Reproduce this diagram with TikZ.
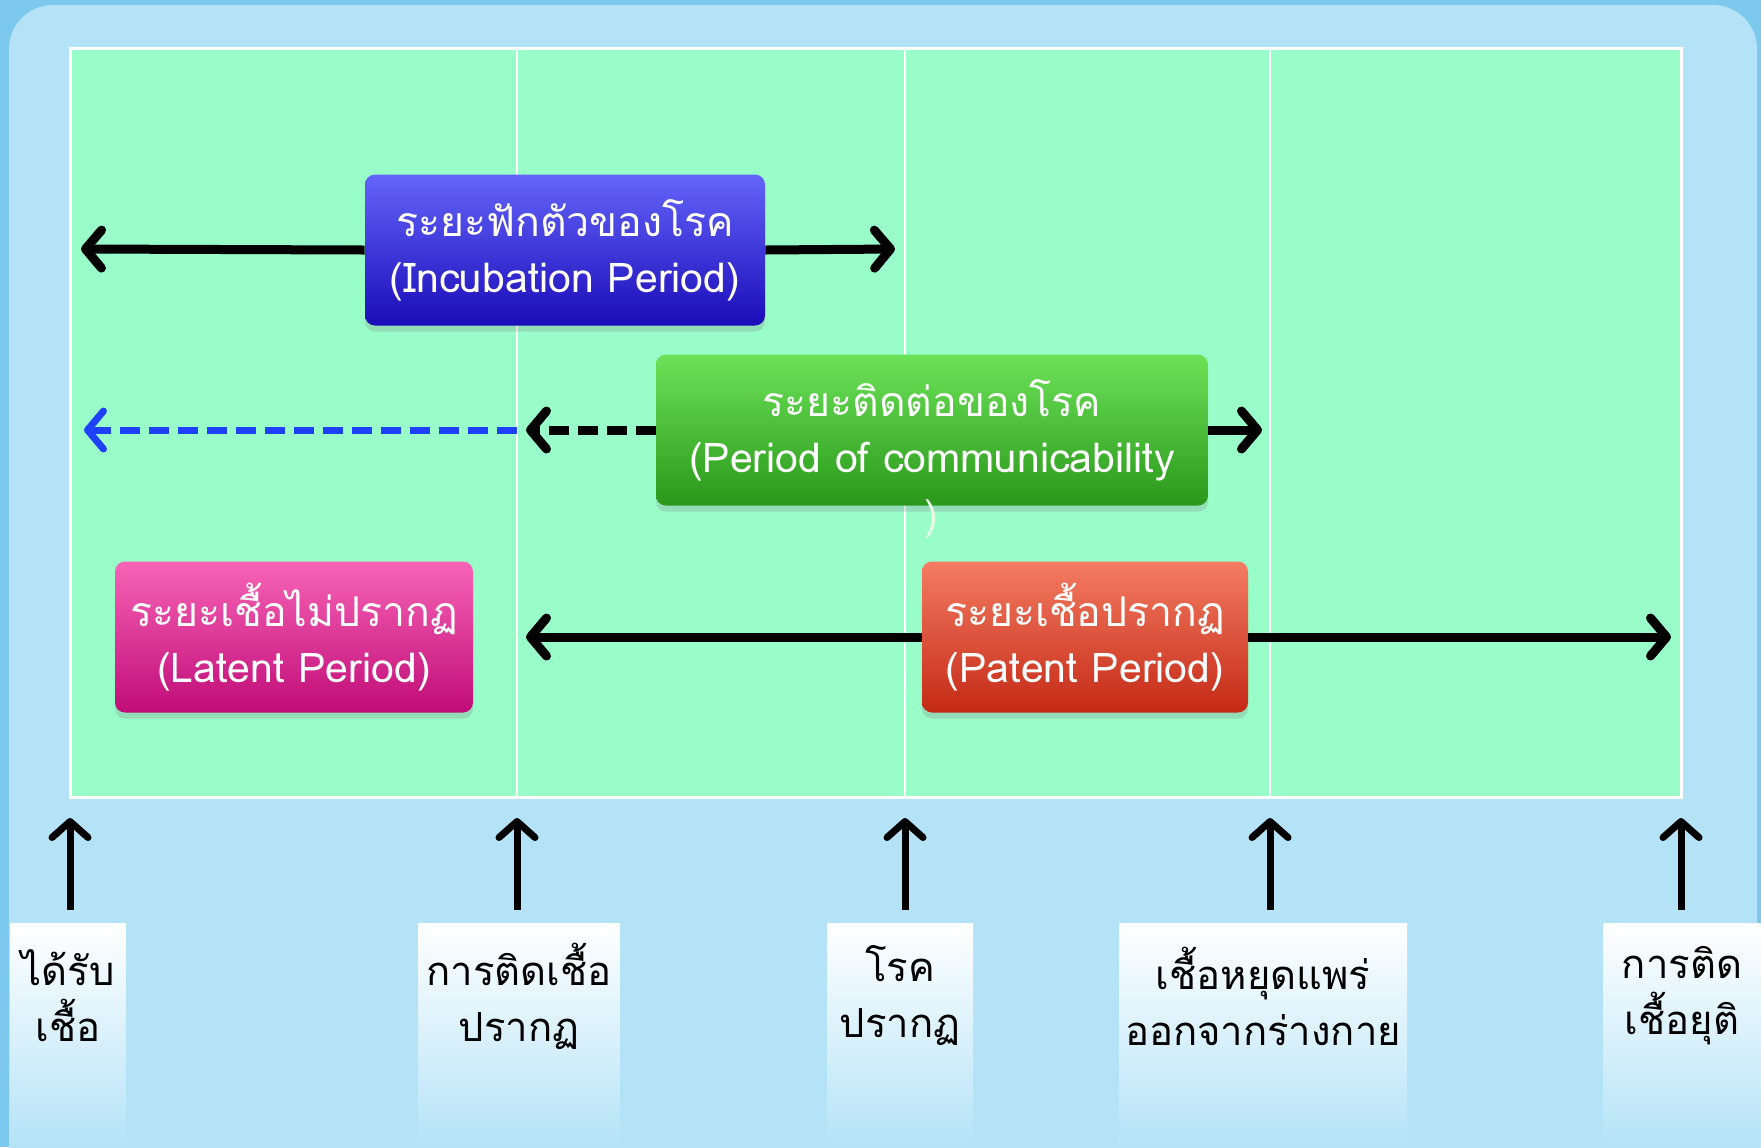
\documentclass[tikz,border=0pt]{standalone}
\usepackage{fontspec}
\setmainfont[Script=Thai]{Loma}
\usetikzlibrary{arrows.meta,positioning,shadows}

\definecolor{framecol}{HTML}{7DC8ED}
\definecolor{bgcol}{HTML}{B4E3F7}
\definecolor{mint}{HTML}{99FDCA}
\definecolor{incTop}{HTML}{6464FA}
\definecolor{incBot}{HTML}{1A0CB8}
\definecolor{comTop}{HTML}{6CE258}
\definecolor{comBot}{HTML}{2A981A}
\definecolor{latTop}{HTML}{F764B6}
\definecolor{latBot}{HTML}{C00C78}
\definecolor{patTop}{HTML}{F47C62}
\definecolor{patBot}{HTML}{C42A16}
\definecolor{farblue}{HTML}{1E40FF}

\begin{document}
\begin{tikzpicture}[x=0.5pt, y=-0.5pt, font=\fontsize{20.5}{28}\selectfont,
  period/.style={rounded corners=5pt, text=white, align=center, minimum height=75.5pt,
    drop shadow={shadow xshift=0pt, shadow yshift=-3pt, opacity=0.25}},
  span/.style={line width=4.5pt, -{Straight Barb[length=8pt,width=19pt,round]}},
  dashspan/.style={span, dash pattern=on 10pt off 4.5pt},
  tick/.style={line width=3.5pt, -{Straight Barb[length=8pt,width=18pt,round]}},
  tickbox/.style={anchor=north, minimum height=112pt, top color=white, middle color=white!75!bgcol, bottom color=bgcol},
  ticktext/.style={align=center, text=black, font=\fontsize{20}{28}\selectfont}]
	\useasboundingbox (0,0) rectangle (1761,1147);
	\fill[framecol] (0,0) rectangle (1761,1147);
	\fill[bgcol, rounded corners=22pt] (9,5) rectangle (1757,1200);
	% time grid
	\draw[white, line width=1.5pt, fill=mint] (70,48) rectangle (1681,797);
	\coordinate (t1) at (70,797);
	\coordinate (t2) at (517,797);
	\coordinate (t3) at (905,797);
	\coordinate (t4) at (1270,797);
	\coordinate (t5) at (1681,797);
	\coordinate (g2) at (517,48);
	\coordinate (g3) at (905,48);
	\coordinate (g4) at (1270,48);
	\draw[white, line width=1.2pt] (t2) -- (g2);
	\draw[white, line width=1.2pt] (t3) -- (g3);
	\draw[white, line width=1.2pt] (t4) -- (g4);

	% incubation
	\node[period, top color=incTop, bottom color=incBot, minimum width=200pt] (inc) at (565,250) {ระยะฟักตัวของโรค\\(Incubation Period)};
	\coordinate (incL) at (81,249);
	\coordinate (incR) at (895,249);
	\draw[span] (inc.west) -- (incL);
	\draw[span] (inc.east) -- (incR);

	% communicability
	\node[period, top color=comTop, bottom color=comBot, minimum width=276pt] (com) at (932,430) {ระยะติดต่อของโรค\\(Period of communicability};
	\node[text=white!85!comTop] (comTail) at (931,519) {)};
	\coordinate (comL) at (526,430);
	\coordinate (comMid) at (517,430);
	\coordinate (comFar) at (84,430);
	\coordinate (comR) at (1262,430);
	\draw[dashspan] (com.west) -- (comL);
	\draw[dashspan, farblue, line width=3.5pt] (comMid) -- (comFar);
	\draw[span] (com.east) -- (comR);

	% latent and patent
	\node[period, top color=latTop, bottom color=latBot, minimum width=179pt] (lat) at (294,637) {ระยะเชื้อไม่ปรากฏ\\(Latent Period)};
	\node[period, top color=patTop, bottom color=patBot, minimum width=163pt] (pat) at (1085,637) {ระยะเชื้อปรากฏ\\(Patent Period)};
	\coordinate (patL) at (526,637);
	\coordinate (patR) at (1671,637);
	\draw[span] (pat.west) -- (patL);
	\draw[span] (pat.east) -- (patR);

	% events
	\node[tickbox, minimum width=57.5pt] (lab1) at (68,923) {};
	\node[tickbox, minimum width=100.5pt] (lab2) at (519,923) {};
	\node[tickbox, minimum width=73pt] (lab3) at (900,923) {};
	\node[tickbox, minimum width=144pt] (lab4) at (1263,923) {};
	\node[tickbox, minimum width=78.5pt] (lab5) at (1682,923) {};
	\node[ticktext] (txt1) at (68,996) {ได้รับ\\เชื้อ};
	\node[ticktext] (txt2) at (519,996) {การติดเชื้อ\\ปรากฏ};
	\node[ticktext] (txt3) at (900,996) {โรค\\ปรากฏ};
	\node[ticktext] (txt4) at (1263,996) {เชื้อหยุดแพร่\\ออกจากร่างกาย};
	\node[ticktext] (txt5) at (1682,996) {การติด\\เชื้อยุติ};
	\draw[tick] ([yshift=6.5pt]lab1.north -| t1) -- ([yshift=-10.5pt]t1);
	\draw[tick] ([yshift=6.5pt]lab2.north -| t2) -- ([yshift=-10.5pt]t2);
	\draw[tick] ([yshift=6.5pt]lab3.north -| t3) -- ([yshift=-10.5pt]t3);
	\draw[tick] ([yshift=6.5pt]lab4.north -| t4) -- ([yshift=-10.5pt]t4);
	\draw[tick] ([yshift=6.5pt]lab5.north -| t5) -- ([yshift=-10.5pt]t5);
\end{tikzpicture}
\end{document}
